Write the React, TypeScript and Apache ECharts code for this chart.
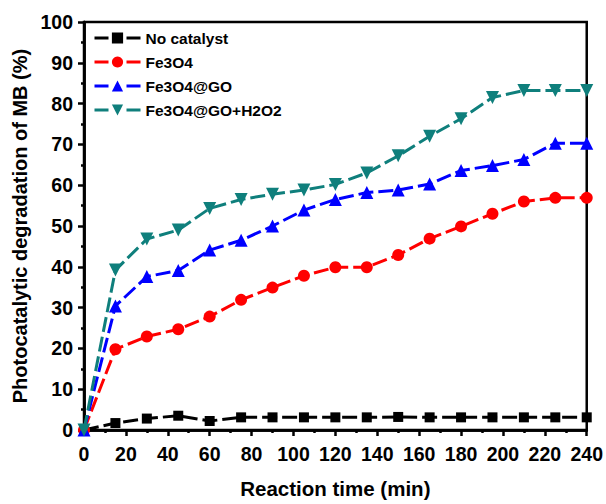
import React, { useEffect, useRef } from "react";
import * as echarts from "echarts";

const times = [0, 15, 30, 45, 60, 75, 90, 105, 120, 135, 150, 165, 180, 195, 210, 225, 240];
const noCatalyst = [0, 1.7, 2.8, 3.5, 2.2, 3.1, 3.1, 3.1, 3.1, 3.1, 3.2, 3.1, 3.1, 3.1, 3.1, 3.1, 3.1];
const fe3o4 = [0, 19.8, 22.9, 24.7, 27.8, 31.9, 34.9, 37.8, 39.9, 39.9, 42.9, 46.9, 49.9, 53.0, 56.0, 56.9, 56.9];
const fe3o4go = [0, 30.4, 37.6, 39.1, 44.1, 46.5, 50.0, 53.9, 56.5, 58.2, 58.8, 60.3, 63.6, 64.8, 66.3, 70.3, 70.3];
const fe3o4goH2o2 = [0, 39.2, 46.8, 49.0, 54.3, 56.5, 57.8, 58.8, 60.2, 63.0, 67.2, 72.0, 76.3, 81.5, 83.2, 83.2, 83.2];
const seriesNames = ["No catalyst", "Fe3O4", "Fe3O4@GO", "Fe3O4@GO+H2O2"];

const FONT = "Liberation Sans";

export default function App() {
  const ref = useRef<HTMLDivElement>(null);
  useEffect(() => {
    document.body.style.margin = "0";
    const chart = echarts.init(ref.current!, null, { renderer: "svg" });
    const mk = (name: string, vals: number[], color: string, symbol: string, size: number) => ({
      name,
      type: "line",
      data: times.map((t, i) => [t, vals[i]]),
      symbol,
      symbolSize: size,
      itemStyle: { color },
      lineStyle: { color, width: 3, type: [15, 5] },
      z: 3,
    });
    chart.setOption({
      animation: false,
      backgroundColor: "#fff",
      textStyle: { fontFamily: FONT },
      grid: {
        left: 84, right: 19, top: 22, bottom: 71,
        show: true, borderColor: "#000", borderWidth: 2.5, backgroundColor: "transparent",
      },
      legend: {
        orient: "vertical",
        left: 88,
        top: 25,
        itemWidth: 46,
        itemHeight: 14,
        itemGap: 8,
        data: seriesNames.map((n) => ({ name: n, lineStyle: { type: [14, 18], width: 3 } })),
        textStyle: { fontFamily: FONT, fontWeight: "bold", fontSize: 15.5, color: "#000" },
      },
      xAxis: [
        {
          type: "value", min: 0, max: 240, interval: 20,
          name: "Reaction time (min)", nameLocation: "middle", nameGap: 48,
          nameTextStyle: { fontFamily: FONT, fontWeight: "bold", fontSize: 20.5, color: "#000" },
          axisLine: { show: true, onZero: false, lineStyle: { color: "#000", width: 2.5 } },
          axisTick: { show: true, length: 6, lineStyle: { color: "#000", width: 2.5 } },
          minorTick: { show: true, splitNumber: 2, length: 3, lineStyle: { color: "#000", width: 2.5 } },
          axisLabel: { fontFamily: FONT, fontWeight: "bold", fontSize: 19.5, color: "#000", margin: 14 },
          splitLine: { show: false },
        },
        {
          type: "value", min: 0, max: 240, interval: 10, position: "top",
          axisLine: { show: true, lineStyle: { color: "#000", width: 2.5 } },
          axisTick: { show: true, inside: true, length: 3, lineStyle: { color: "#000", width: 1 } },
          axisLabel: { show: false },
          splitLine: { show: false },
        },
      ],
      yAxis: [
        {
          type: "value", min: 0, max: 100, interval: 10,
          name: "Photocatalytic degradation of MB (%)", nameLocation: "middle", nameGap: 50,
          nameTextStyle: { fontFamily: FONT, fontWeight: "bold", fontSize: 20, color: "#000" },
          axisLine: { show: true, onZero: false, lineStyle: { color: "#000", width: 2.5 } },
          axisTick: { show: true, length: 6, lineStyle: { color: "#000", width: 2.5 } },
          minorTick: { show: true, splitNumber: 2, length: 3, lineStyle: { color: "#000", width: 2.5 } },
          axisLabel: { fontFamily: FONT, fontWeight: "bold", fontSize: 19.5, color: "#000", margin: 11 },
          splitLine: { show: false },
        },
        {
          type: "value", min: 0, max: 100, interval: 10, position: "right",
          axisLine: { show: true, lineStyle: { color: "#000", width: 2.5 } },
          axisTick: { show: false },
          axisLabel: { show: false },
          splitLine: { show: false },
        },
      ],
      series: [
        mk(seriesNames[0], noCatalyst, "#000000", "rect", 10),
        mk(seriesNames[1], fe3o4, "#ff0000", "circle", 12),
        mk(seriesNames[2], fe3o4go, "#0000ff", "triangle", 13),
        mk(seriesNames[3], fe3o4goH2o2, "#0f7f7c", "path://M0,0 L10,0 L5,9 Z", 13),
      ],
    });
    return () => chart.dispose();
  }, []);
  return <div ref={ref} style={{ position: "fixed", left: 0, top: 0, width: 606, height: 504 }} />;
}
